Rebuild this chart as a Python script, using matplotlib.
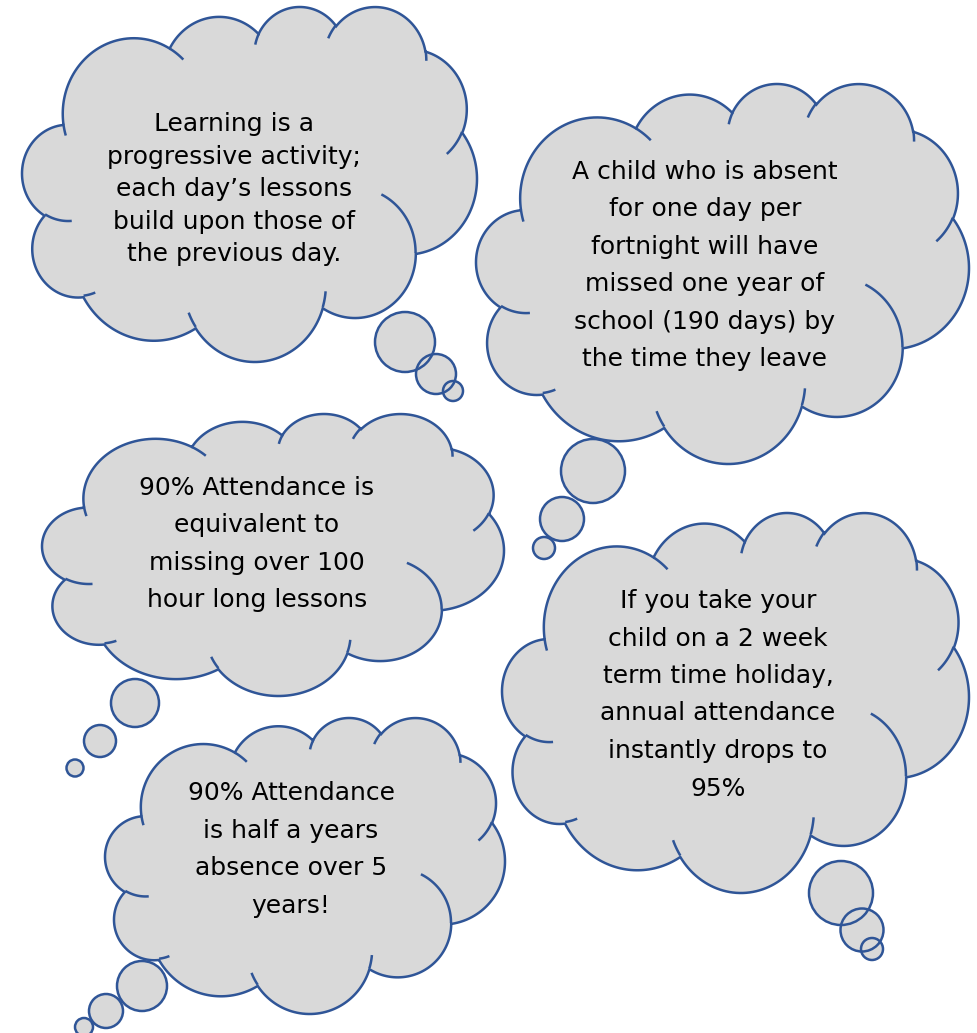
import numpy as np
import matplotlib.pyplot as plt
from matplotlib.patches import Polygon, Circle

# text of each thought bubble, one entry per line
texts = [
    ["Learning is a", "progressive activity;", "each day\u2019s lessons",
     "build upon those of", "the previous day."],
    ["A child who is absent", "for one day per", "fortnight will have",
     "missed one year of", "school (190 days) by", "the time they leave"],
    ["90% Attendance is", "equivalent to", "missing over 100",
     "hour long lessons"],
    ["If you take your", "child on a 2 week", "term time holiday,",
     "annual attendance", "instantly drops to", "95%"],
    ["90% Attendance", "is half a years", "absence over 5", "years!"],
]

# cloud boxes in pixels: left, top, right, bottom
boxes = [
    (22, 7, 477, 362),
    (476, 84, 969, 464),
    (42, 414, 504, 696),
    (502, 513, 969, 893),
    (105, 718, 505, 1014),
]
# text centre x, first baseline y, line step
text_pos = [
    (234, 131, 32.6),
    (705, 179, 37.4),
    (257, 495, 37.3),
    (718, 608, 37.5),
    (291, 800, 37.7),
]
# tail bubbles: (x, y, r)
tails = [
    [(405, 342, 30), (436, 374, 20), (453, 391, 10)],
    [(593, 471, 32), (562, 519, 22), (544, 548, 11)],
    [(135, 703, 24), (100, 741, 16), (75, 768, 8.5)],
    [(841, 893, 32), (862, 930, 21.5), (872, 949, 11)],
    [(142, 986, 25), (106, 1011, 17), (84, 1027, 9)],
]

fill = "#d9d9d9"
edge = "#2f5597"

# office "cloud" outline, 43200 units square
start = (3900, 14370)
body = [
    (6753, 9190, -11429249, 7426832),
    (5333, 7267, -8646143, 5396714),
    (4365, 5945, -8748475, 5983381),
    (4857, 6595, -7859164, 7034504),
    (5333, 7273, -4722533, 6541615),
    (6775, 9220, -2776035, 7816140),
    (5785, 7867, 37501, 6842000),
    (6752, 9215, 1347096, 6910353),
    (7720, 10543, 3974558, 4542661),
    (4360, 5918, -16496525, 8804134),
    (4345, 5945, -14809710, 9151131),
]
inner = [
    (4693, 26177, 4345, 5945, 5204520, 1585770),
    (6928, 34899, 4360, 5918, 4416628, 686848),
    (16478, 39090, 6752, 9215, 8257449, 844866),
    (28827, 34751, 6752, 9215, 387196, 959901),
    (34129, 22954, 5785, 7867, -4217541, 4255042),
    (41798, 15354, 5333, 7273, 1819082, 1665090),
    (38324, 5426, 4857, 6595, -824660, 891534),
    (29078, 3952, 4857, 6595, -8950887, 1091722),
    (22141, 4720, 4365, 5945, -9809656, 1061181),
    (14000, 5192, 6753, 9190, -4002417, 739161),
    (4127, 15789, 6753, 9190, 9459261, 711490),
]


def arc(x, y, wr, hr, st, sw, n=60):
    a = np.radians(np.linspace(st, st + sw, n) / 60000)
    t = a + np.angle(np.exp(1j * (np.arctan2(wr * np.sin(a), hr * np.cos(a)) - a)))
    cx = x - wr * np.cos(t[0])
    cy = y - hr * np.sin(t[0])
    return cx + wr * np.cos(t), cy + hr * np.sin(t)


xs, ys = [start[0]], [start[1]]
for wr, hr, st, sw in body:
    ax_, ay_ = arc(xs[-1], ys[-1], wr, hr, st, sw)
    xs.extend(ax_[1:])
    ys.extend(ay_[1:])
xs, ys = np.array(xs), np.array(ys)
xmin, xmax, ymin, ymax = xs.min(), xs.max(), ys.min(), ys.max()

fig = plt.figure(figsize=(9.77, 10.33), dpi=100)
ax = fig.add_axes([0, 0, 1, 1])
ax.set_xlim(0, 977)
ax.set_ylim(1033, 0)
ax.axis("off")

for k, (l, t, r, b) in enumerate(boxes):
    sx = (r - l) / (xmax - xmin)
    sy = (b - t) / (ymax - ymin)
    px = l + (xs - xmin) * sx
    py = t + (ys - ymin) * sy
    ax.add_patch(Polygon(np.column_stack([px, py]), closed=True, fc=fill,
                         ec=edge, lw=1.8, zorder=2 + 3 * k))
    for x0, y0, wr, hr, st, sw in inner:
        ix, iy = arc(x0, y0, wr, hr, st, sw)
        ax.plot(l + (ix - xmin) * sx, t + (iy - ymin) * sy, color=edge,
                lw=1.8, solid_capstyle="butt", zorder=2.5 + 3 * k)
    for cx, cy, rad in tails[k]:
        ax.add_patch(Circle((cx, cy), rad, fc=fill, ec="none", zorder=1 + 3 * k))
        ax.add_patch(Circle((cx, cy), rad, fc="none", ec=edge, lw=1.8,
                            zorder=1.5 + 3 * k))
    tx, ty, step = text_pos[k]
    for i, line in enumerate(texts[k]):
        ax.text(tx, ty + i * step, line, ha="center", va="baseline",
                fontsize=18, family="DejaVu Sans", color="#000000",
                zorder=3 + 3 * k)

fig.savefig("out.png", dpi=100)
